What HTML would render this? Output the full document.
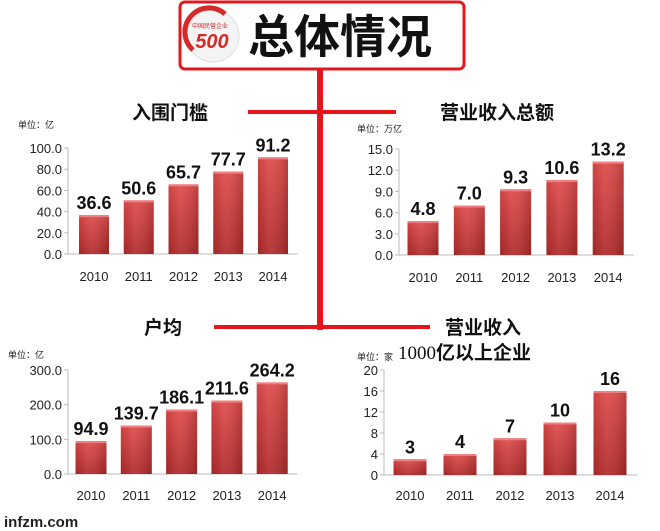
<!DOCTYPE html>
<html><head><meta charset="utf-8">
<style>
html,body{margin:0;padding:0;background:#fff;}
body{width:660px;height:531px;overflow:hidden;position:relative;font-family:"Liberation Sans","Noto Sans CJK SC",sans-serif;}
svg{position:absolute;left:0;top:0;}
</style></head>
<body>
<svg id="main" width="660" height="531" viewBox="0 0 660 531">
<defs>
<linearGradient id="barg" x1="0" y1="0" x2="0" y2="1">
<stop offset="0" stop-color="#e04a4a"/><stop offset="1" stop-color="#b02a2a"/>
</linearGradient>
<linearGradient id="barh" x1="0" y1="0" x2="1" y2="0">
<stop offset="0" stop-color="#000" stop-opacity="0.08"/><stop offset="0.4" stop-color="#fff" stop-opacity="0.08"/><stop offset="1" stop-color="#000" stop-opacity="0.15"/>
</linearGradient>
</defs>
<rect x="317" y="68" width="6" height="262" fill="#e8141b"/>
<rect x="248" y="110" width="148" height="4" fill="#e8141b"/>
<rect x="214" y="325" width="216" height="4" fill="#e8141b"/>
<g>
<rect x="180" y="2" width="284" height="67" rx="5" fill="#fff" stroke="#e01820" stroke-width="3"/>
<g>
<circle cx="213" cy="36" r="26" fill="#f4f4f4" stroke="#ddd"/>
<path d="M193 50 A24 24 0 0 1 225 14" fill="none" stroke="#d42a2a" stroke-width="5"/>
<text x="212" y="48" font-size="20" font-weight="bold" font-style="italic" fill="#d42a2a" text-anchor="middle">500</text>
<text x="210" y="28" font-size="6" fill="#d42a2a" text-anchor="middle">中国民营企业</text>
</g>
<text x="340" y="53" font-size="46" font-weight="bold" fill="#111" text-anchor="middle">总体情况</text>
</g>
<text x="170" y="119" font-size="19" font-weight="bold" text-anchor="middle" fill="#111">入围门槛</text>
<text x="497" y="119" font-size="19" font-weight="bold" text-anchor="middle" fill="#111">营业收入总额</text>
<text x="163" y="334" font-size="19" font-weight="bold" text-anchor="middle" fill="#111">户均</text>
<text x="483" y="334" font-size="19" font-weight="bold" text-anchor="middle" fill="#111">营业收入</text>
<text x="398" y="359" font-size="19" fill="#111"><tspan font-family="Liberation Serif, serif">1000</tspan><tspan font-weight="bold">亿以上企业</tspan></text>
<text x="4" y="527" font-size="15" font-weight="bold" fill="#222">infzm.com</text>
</svg>
<script>
const years = ["2010","2011","2012","2013","2014"];
const thresholdValues = [36.6, 50.6, 65.7, 77.7, 91.2];
const thresholdTicks = ["0.0","20.0","40.0","60.0","80.0","100.0"];
const revenueValues = [4.8, 7.0, 9.3, 10.6, 13.2];
const revenueTicks = ["0.0","3.0","6.0","9.0","12.0","15.0"];
const averageValues = [94.9, 139.7, 186.1, 211.6, 264.2];
const averageTicks = ["0.0","100.0","200.0","300.0"];
const countValues = [3, 4, 7, 10, 16];
const countTicks = ["0","4","8","12","16","20"];

const NS = "http://www.w3.org/2000/svg";
const svg = document.getElementById("main");
function mk(tag, attrs, parent){
  const e = document.createElementNS(NS, tag);
  for (const k in attrs) e.setAttribute(k, attrs[k]);
  (parent||svg).appendChild(e);
  return e;
}
function chart(cfg){
  const g = mk("g", {});
  
  
  const ticks = cfg.ticks, max = parseFloat(ticks[ticks.length-1]);
  const y = v => cfg.y0 - (v/max)*(cfg.y0 - cfg.yTop);
  const x = i => cfg.c0 + cfg.step*i;
  const ax0 = cfg.axisX, axEnd = x(years.length-1) + cfg.step*0.55;
  const u = mk("text", {x:cfg.ux, y:cfg.uy, "font-size":9, fill:"#222"}, g);
  u.textContent = cfg.unit;
  
  
  const ax = mk("line", {x1:ax0, x2:ax0, y1:cfg.yTop, y2:cfg.y0, stroke:"#bbb"}, g);
  
  
  const bx = mk("line", {x1:ax0, x2:axEnd, y1:cfg.y0, y2:cfg.y0, stroke:"#bbb"}, g);
  
  
  ticks.forEach(t => {
    const v = parseFloat(t), yy = y(v);
    mk("line", {x1:ax0-4, x2:ax0, y1:yy, y2:yy, stroke:"#bbb"}, g);
    const tx = mk("text", {x:ax0-6, y:yy+5, "font-size":13, "text-anchor":"end", fill:"#222"}, g);
    tx.textContent = t;
    
    
  });
  years.forEach((yr, i) => {
    const v = cfg.values[i], top = y(v);
    const b = mk("rect", {x:x(i)-cfg.bw/2, y:top, width:cfg.bw, height:cfg.y0-top, fill:"url(#barg)"}, g);
    
    
    mk("rect", {x:x(i)-cfg.bw/2, y:top, width:cfg.bw, height:cfg.y0-top, fill:"url(#barh)"}, g);
    mk("rect", {x:x(i)-cfg.bw/2, y:top, width:cfg.bw, height:2, fill:"#f08080"}, g);
    const vl = mk("text", {x:x(i), y:top-6, "font-size":18, "font-weight":"bold", "text-anchor":"middle", fill:"#111"}, g);
    vl.textContent = cfg.fmt(v);
    
    
    const xl = mk("text", {x:x(i), y:cfg.xly, "font-size":13, "text-anchor":"middle", fill:"#222"}, g);
    xl.textContent = yr;
    
    
  });
}
chart({name:"threshold-chart", values:thresholdValues, ticks:thresholdTicks, axisX:68, c0:94, step:44.75, bw:30, y0:254, yTop:148, xly:281, unit:"单位：亿", ux:18, uy:128, fmt:v=>v.toFixed(1)});
chart({name:"revenue-total-chart", values:revenueValues, ticks:revenueTicks, axisX:399, c0:423, step:46.3, bw:31, y0:255, yTop:149, xly:282, unit:"单位：万亿", ux:357, uy:132, fmt:v=>v.toFixed(1)});
chart({name:"average-chart", values:averageValues, ticks:averageTicks, axisX:68, c0:91, step:45.3, bw:31, y0:474, yTop:370, xly:500, unit:"单位：亿", ux:8, uy:358, fmt:v=>v.toFixed(1)});
chart({name:"over-1000-count-chart", values:countValues, ticks:countTicks, axisX:384, c0:410, step:50, bw:33, y0:475, yTop:370, xly:500, unit:"单位：家", ux:357, uy:360, fmt:v=>String(v)});
</script>
</body></html>
